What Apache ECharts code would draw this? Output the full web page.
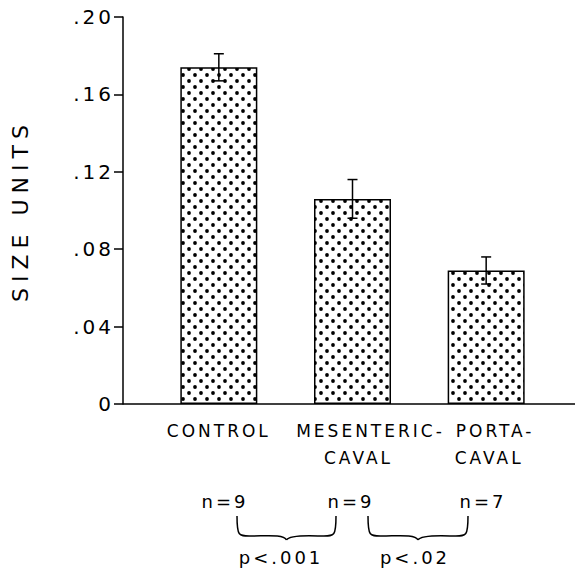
<!DOCTYPE html>
<html><head><meta charset="utf-8">
<script src="https://cdn.jsdelivr.net/npm/echarts/dist/echarts.min.js"></script>
<style>
html,body{margin:0;padding:0;background:#fff}
#c{width:575px;height:568px}
#c text{letter-spacing:3px}
</style>
</head><body><div id="c"></div>
<script>
// ---- data ----
const categories = ['CONTROL', 'MESENTERIC-\nCAVAL', 'PORTA-\nCAVAL'];
const means = [0.174, 0.106, 0.069];
const errors = [0.007, 0.010, 0.007];
const sampleSizes = ['n=9', 'n=9', 'n=7'];
const comparisons = ['p<.001', 'p<.02'];
const yTickLabels = ['0', '.04', '.08', '.12', '.16', '.20'];
const yTitle = 'SIZE UNITS';

// ---- dotted pattern ----
const pc = document.createElement('canvas');
pc.width = 12; pc.height = 12;
const g = pc.getContext('2d');
g.fillStyle = '#fff'; g.fillRect(0, 0, 12, 12);
g.fillStyle = '#000';
[[3, 3], [9, 9]].forEach(p => { g.beginPath(); g.arc(p[0], p[1], 1.9, 0, Math.PI * 2); g.fill(); });

const chart = echarts.init(document.getElementById('c'), null, { renderer: 'svg' });
const FONT = 'DejaVu Sans';
const base = { color: '#000', fontSize: 17, lineHeight: 27, fontFamily: FONT };
// left-padding per label line to mimic the hand-lettered offsets
const linePad = [[0], [36, 12], [18, 6]];

const option = {
  animation: false,
  backgroundColor: '#fff',
  textStyle: { fontFamily: FONT, color: '#000' },
  grid: { left: 152, right: 22, top: 17, bottom: 164 },
  xAxis: {
    type: 'category', data: categories,
    axisLine: { show: false }, axisTick: { show: false },
    axisLabel: {
      interval: 0, color: '#000', fontSize: 17, margin: 13, lineHeight: 27, fontFamily: FONT,
      formatter: (v, idx) => v.split('\n').map((s, j) => '{l' + idx + '_' + j + '|' + s + '}').join('\n'),
      rich: (() => {
        const r = {};
        linePad.forEach((pads, i) => pads.forEach((p, j) => {
          r['l' + i + '_' + j] = Object.assign({}, base, { padding: [0, 0, 0, p] });
        }));
        return r;
      })()
    }
  },
  yAxis: {
    type: 'value', min: 0, max: 0.2, interval: 0.04, offset: 29,
    axisLine: { show: true, lineStyle: { color: '#000', width: 1.5 } },
    axisTick: { show: true, length: 9, lineStyle: { color: '#000', width: 1.5 } },
    splitLine: { show: false },
    axisLabel: {
      color: '#000', fontSize: 20, margin: 9, fontFamily: FONT,
      formatter: (v) => yTickLabels[Math.round(v / 0.04)]
    },
    name: yTitle, nameLocation: 'middle', nameRotate: 90, nameGap: 92,
    nameTextStyle: { color: '#000', fontSize: 22, fontFamily: FONT }
  },
  series: [
    {
      type: 'bar', data: means, barWidth: 77,
      itemStyle: { color: { image: pc, repeat: 'repeat' }, borderColor: '#000', borderWidth: 1.5 }
    },
    {
      type: 'custom',
      data: means.map((m, i) => [i, m - errors[i], m + errors[i]]),
      encode: { x: 0, y: [1, 2] },
      renderItem: (params, api) => {
        const lo = api.coord([api.value(0), api.value(1)]);
        const hi = api.coord([api.value(0), api.value(2)]);
        const st = { stroke: '#000', lineWidth: 1.5 };
        const w = 5;
        return {
          type: 'group', children: [
            { type: 'line', shape: { x1: hi[0], y1: hi[1], x2: lo[0], y2: lo[1] }, style: st },
            { type: 'line', shape: { x1: hi[0] - w, y1: hi[1], x2: hi[0] + w, y2: hi[1] }, style: st },
            { type: 'line', shape: { x1: lo[0] - w, y1: lo[1], x2: lo[0] + w, y2: lo[1] }, style: st }
          ]
        };
      },
      z: 5
    }
  ]
};
chart.setOption(option);

// ---- decorations: full-width x axis line, n labels, braces, p labels ----
const y0 = chart.convertToPixel({ yAxisIndex: 0 }, 0);
const ls = { stroke: '#000', lineWidth: 1.5, fill: null };
function brace(x1, x2, yt, yb) {
  const xm = (x1 + x2) / 2;
  return [
    { type: 'bezierCurve', shape: { x1: x1, y1: yt, cpx1: x1, cpy1: yb + 1, cpx2: x1 + 2, cpy2: yb, x2: x1 + 14, y2: yb }, style: ls },
    { type: 'bezierCurve', shape: { x1: x1 + 14, y1: yb, cpx1: xm - 20, cpy1: yb, cpx2: xm - 3, cpy2: yb - 2, x2: xm, y2: yb + 4 }, style: ls },
    { type: 'bezierCurve', shape: { x1: xm, y1: yb + 4, cpx1: xm + 3, cpy1: yb - 2, cpx2: x2 - 20, cpy2: yb, x2: x2 - 14, y2: yb }, style: ls },
    { type: 'bezierCurve', shape: { x1: x2 - 14, y1: yb, cpx1: x2 - 2, cpy1: yb, cpx2: x2, cpy2: yb + 1, x2: x2, y2: yt }, style: ls }
  ];
}
const ts = (t) => ({ text: t, fill: '#000', font: '18px "DejaVu Sans"', textAlign: 'center', textVerticalAlign: 'middle' });
const nX = [225, 351, 483];
const pX = [281, 415];
chart.setOption({
  graphic: [
    { type: 'line', shape: { x1: 123, y1: y0, x2: 575, y2: y0 }, style: { stroke: '#000', lineWidth: 1.5 }, z: 10 },
    ...sampleSizes.map((t, i) => ({ type: 'text', x: nX[i], y: 501, style: ts(t) })),
    ...brace(237, 336, 516, 536),
    ...brace(368, 468, 516, 536),
    ...comparisons.map((t, i) => ({ type: 'text', x: pX[i], y: 557, style: ts(t) }))
  ]
});

document.querySelectorAll('#c text').forEach(t => {
  if (t.textContent === yTitle) t.style.letterSpacing = '6px';
});
</script>
</body></html>
